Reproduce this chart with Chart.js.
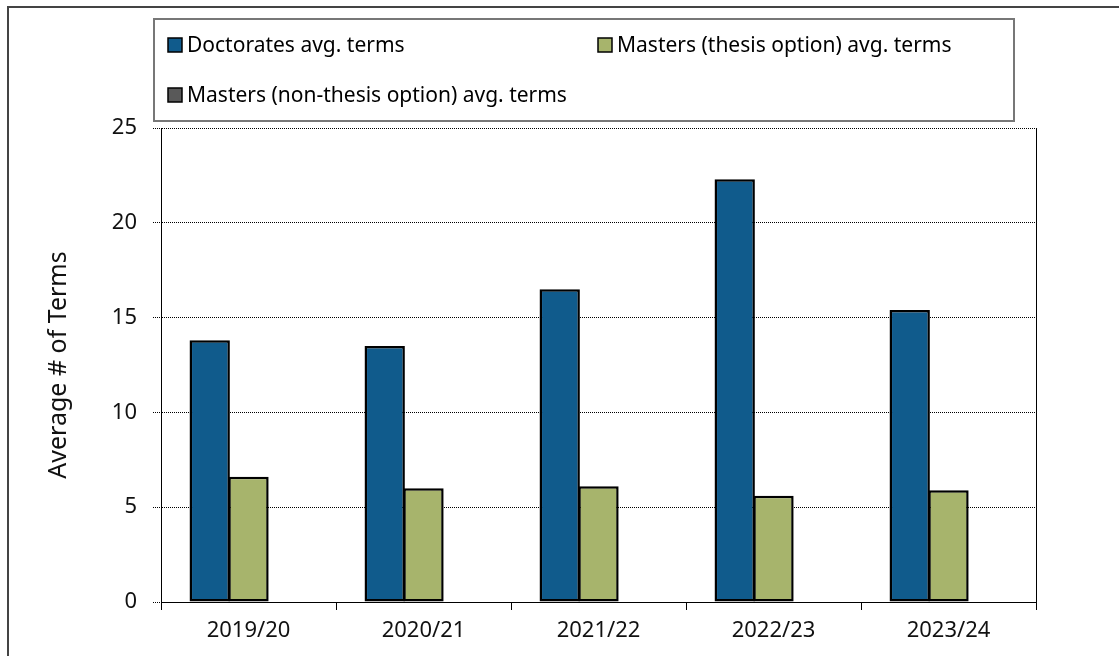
<!DOCTYPE html>
<html>
<head>
<meta charset="utf-8">
<script src="https://cdn.jsdelivr.net/npm/chart.js@4.4.1/dist/chart.umd.min.js"></script>
<style>
  html, body { margin: 0; padding: 0; background: #fff; }
  #wrap { position: relative; width: 1119px; height: 656px; }
</style>
</head>
<body>
<div id="wrap"><canvas id="chart" width="1119" height="656"></canvas></div>
<script>
const years = ['2019/20', '2020/21', '2021/22', '2022/23', '2023/24'];
const doctorates = [13.8, 13.5, 16.5, 22.3, 15.4];
const mastersThesis = [6.6, 6.0, 6.1, 5.6, 5.9];
const mastersNonThesis = [null, null, null, null, null];
const seriesNames = [
  'Doctorates avg. terms',
  'Masters (thesis option) avg. terms',
  'Masters (non-thesis option) avg. terms',
];
const seriesColors = ['#105B8C', '#A7B46C', '#595959'];

const FONT = '"Noto Sans", sans-serif';

// frame lines + legend box drawn around the plot
const framePlugin = {
  id: 'frame',
  afterDraw(chart) {
    const { ctx, chartArea } = chart;
    ctx.save();
    // outer frame (only left/top visible)
    ctx.strokeStyle = '#444';
    ctx.lineWidth = 2;
    ctx.beginPath();
    ctx.moveTo(8, 656);
    ctx.lineTo(8, 7);
    ctx.lineTo(1119, 7);
    ctx.stroke();

    // right border of plot
    ctx.strokeStyle = '#000';
    ctx.lineWidth = 1;
    ctx.beginPath();
    ctx.moveTo(chartArea.right + 0.5, chartArea.top);
    ctx.lineTo(chartArea.right + 0.5, chartArea.bottom + 8);
    ctx.stroke();

    // legend box
    ctx.strokeStyle = '#777';
    ctx.lineWidth = 2;
    ctx.strokeRect(154, 19, 860, 102);

    const items = [
      { x: 168, y: 45 },
      { x: 598, y: 45 },
      { x: 168, y: 95 },
    ];
    ctx.font = '21px ' + FONT;
    ctx.textBaseline = 'middle';
    chart.data.datasets.forEach((ds, i) => {
      const p = items[i];
      ctx.fillStyle = ds.backgroundColor;
      ctx.fillRect(p.x, p.y - 7, 14, 14);
      ctx.strokeStyle = '#000';
      ctx.lineWidth = 1.5;
      ctx.strokeRect(p.x, p.y - 7, 14, 14);
      ctx.fillStyle = '#000';
      ctx.fillText(ds.label, p.x + 19, p.y + 1);
    });
    ctx.restore();
  },
};

const datasets = [doctorates, mastersThesis, mastersNonThesis].map((vals, i) => ({
  label: seriesNames[i],
  data: vals,
  backgroundColor: seriesColors[i],
  borderColor: '#000',
  borderWidth: 2.5,
  borderSkipped: false,
  categoryPercentage: 0.665,
  barPercentage: 1.04,
}));

new Chart(document.getElementById('chart').getContext('2d'), {
  type: 'bar',
  data: { labels: years, datasets },
  plugins: [framePlugin],
  options: {
    responsive: false,
    animation: false,
    layout: { padding: { left: 44, right: 83, top: 128, bottom: 0 } },
    plugins: {
      legend: { display: false },
      tooltip: { enabled: false },
    },
    scales: {
      x: {
        afterFit: (s) => { s.height = 54; },
        grid: {
          drawOnChartArea: false,
          drawTicks: true,
          tickLength: 8,
          tickColor: '#000',
          color: '#000',
        },
        border: { display: true, color: '#000', width: 1 },
        ticks: {
          color: '#111',
          padding: 8,
          font: { family: FONT, size: 22 },
        },
      },
      y: {
        min: 0,
        max: 25,
        afterFit: (s) => { s.width = 117; },
        grid: {
          color: '#000',
          lineWidth: 1,
          tickLength: 8,
          tickColor: '#000',
          tickBorderDash: [1, 1],
        },
        border: { display: true, color: '#000', width: 1, dash: [1, 1] },
        ticks: {
          stepSize: 5,
          color: '#111',
          padding: 16,
          font: { family: FONT, size: 22 },
        },
        title: {
          display: true,
          text: 'Average # of Terms',
          color: '#111',
          padding: { top: 0, bottom: 0 },
          font: { family: FONT, size: 25 },
        },
      },
    },
  },
});
</script>
</body>
</html>
